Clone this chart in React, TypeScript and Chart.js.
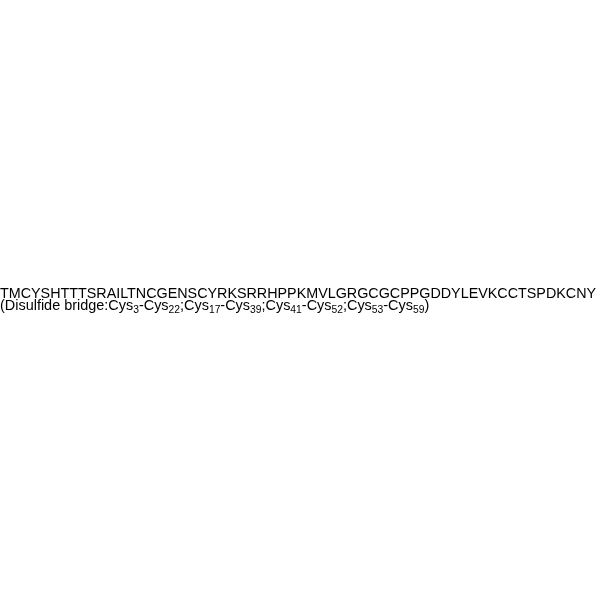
import React, { useEffect, useRef } from "react";
import { Chart, registerables } from "chart.js";

Chart.register(...registerables);

const sequence = "TMCYSHTTTSRAILTNCGENSCYRKSRRHPPKMVLGRGCGCPPGDDYLEVKCCTSPDKCNY";
const bridgeLabel = "Disulfide bridge:";
const bridgeResidue = "Cys";
const bridgeFrom = [3, 17, 41, 53];
const bridgeTo = [22, 39, 52, 59];

const FONT = "Arial, 'Liberation Sans', sans-serif";
const MAIN_SIZE = 14.33;
const LINE2_SIZE = 14.45;
const SUB_SIZE = 10.3;

const textPlugin = {
  id: "peptideText",
  afterDraw(chart: any) {
    const ctx = chart.ctx as CanvasRenderingContext2D;
    ctx.save();
    ctx.fillStyle = "#000";
    ctx.textBaseline = "alphabetic";
    ctx.textAlign = "left";
    const x0 = 0;
    const y1 = 297.5;
    const y2 = 310;
    ctx.font = `${MAIN_SIZE}px ${FONT}`;
    ctx.fillText(sequence, x0, y1);

    let x = x0;
    const main = (t: string) => {
      ctx.font = `${LINE2_SIZE}px ${FONT}`;
      ctx.fillText(t, x, y2);
      x += ctx.measureText(t).width;
    };
    const sub = (t: string) => {
      ctx.font = `${SUB_SIZE}px ${FONT}`;
      ctx.fillText(t, x, y2 + 2.5);
      x += ctx.measureText(t).width;
    };
    main("(" + bridgeLabel);
    bridgeFrom.forEach((f, i) => {
      if (i > 0) main(";");
      main(bridgeResidue);
      sub(String(f));
      main("-" + bridgeResidue);
      sub(String(bridgeTo[i]));
    });
    main(")");
    ctx.restore();
  },
};

export default function App() {
  const ref = useRef<HTMLCanvasElement>(null);
  useEffect(() => {
    if (!ref.current) return;
    const chart = new Chart(ref.current, {
      type: "bar",
      data: { labels: [], datasets: [] },
      options: {
        animation: false,
        responsive: false,
        devicePixelRatio: 1,
        events: [],
        plugins: { legend: { display: false }, tooltip: { enabled: false } },
        scales: { x: { display: false }, y: { display: false } },
      },
      plugins: [textPlugin],
    });
    return () => chart.destroy();
  }, []);
  return (
    <div style={{ position: "fixed", left: 0, top: 0, width: 600, height: 600, background: "#fff" }}>
      <canvas ref={ref} width={600} height={600} style={{ width: 600, height: 600 }} />
    </div>
  );
}
